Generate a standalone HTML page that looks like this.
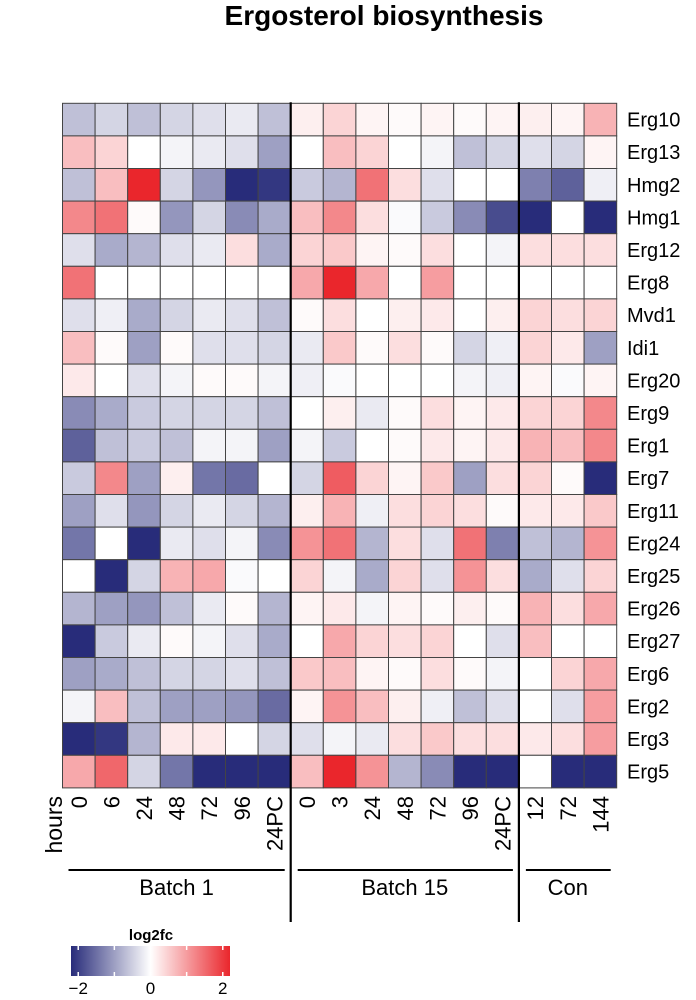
<!DOCTYPE html>
<html><head><meta charset="utf-8"><style>
body{margin:0;background:#fff;width:696px;height:1000px;overflow:hidden;font-family:"Liberation Sans",Arial,sans-serif}
svg{display:block}
</style></head><body>
<svg id="chart" width="696" height="1000"></svg>
<script>
const genes=["Erg10","Erg13","Hmg2","Hmg1","Erg12","Erg8","Mvd1","Idi1","Erg20","Erg9","Erg1","Erg7","Erg11","Erg24","Erg25","Erg26","Erg27","Erg6","Erg2","Erg3","Erg5"];
const hours=["0","6","24","48","72","96","24PC","0","3","24","48","72","96","24PC","12","72","144"];
const groups=["Batch 1","Batch 15","Con"];
const groupSizes=[7,7,3];
const legendTicks=[-2,0,2];
const values=[
[-0.6,-0.4,-0.6,-0.4,-0.3,-0.2,-0.6, 0.15,0.4,0.1,0.05,0.1,0.05,0.1, 0.15,0.1,0.7],
[0.6,0.4,0,-0.1,-0.2,-0.3,-0.9, 0,0.6,0.4,0,-0.1,-0.6,-0.4, -0.3,-0.4,0.1],
[-0.6,0.6,2,-0.4,-1,-2.2,-1.9, -0.5,-0.7,1.3,0.3,-0.3,0,0, -1.2,-1.5,-0.15],
[1.1,1.3,0.05,-1,-0.4,-1.1,-0.8, 0.6,1.1,0.3,-0.05,-0.5,-1.1,-1.7, -2.2,0,-2.2],
[-0.3,-0.8,-0.7,-0.3,-0.2,0.3,-0.8, 0.4,0.5,0.1,0.05,0.3,0,-0.1, 0.3,0.3,0.3],
[1.3,0,0,0,0,0,0, 0.8,2,0.8,0,0.9,0,0, 0,0,0],
[-0.3,-0.15,-0.8,-0.4,-0.2,-0.3,-0.6, 0.05,0.3,0,0.15,0.2,0,0.15, 0.4,0.3,0.4],
[0.6,0.05,-0.9,0.05,-0.3,-0.3,-0.4, -0.2,0.5,0.05,0.3,0.05,-0.4,-0.15, 0.4,0.2,-0.9],
[0.2,0,-0.3,-0.1,0.05,0.05,-0.1, -0.15,-0.05,0,0,0,-0.1,-0.15, 0.1,-0.05,0.1],
[-1.1,-0.8,-0.5,-0.4,-0.4,-0.4,-0.6, 0,0.15,-0.2,0.05,0.3,0.1,0.2, 0.4,0.4,1.1],
[-1.5,-0.6,-0.5,-0.6,-0.1,-0.1,-0.9, -0.1,-0.5,0,0.05,0.2,0.1,0.2, 0.7,0.6,1.1],
[-0.5,1.1,-0.9,0.15,-1.3,-1.4,0, -0.4,1.5,0.4,0.1,0.5,-0.9,0.3, 0.4,0.05,-2.2],
[-0.9,-0.3,-1,-0.4,-0.2,-0.4,-0.7, 0.15,0.7,-0.15,0.3,0.4,0.3,0.05, 0.2,0.2,0.5],
[-1.3,0,-2,-0.2,-0.3,-0.1,-1.1, 1,1.3,-0.7,0.3,-0.3,1.3,-1.2, -0.6,-0.7,1],
[0,-2.2,-0.4,0.7,0.8,-0.05,0, 0.4,-0.1,-0.8,0.4,-0.3,1,0.3, -0.8,-0.3,0.4],
[-0.7,-0.9,-1,-0.6,-0.2,0.05,-0.7, 0.1,0.2,-0.1,0.1,0.05,0.15,0.05, 0.7,0.3,0.8],
[-2,-0.5,-0.2,0.05,-0.1,-0.3,-0.8, 0,0.8,0.4,0.3,0.4,0,-0.3, 0.6,0,0],
[-0.9,-0.8,-0.6,-0.4,-0.4,-0.3,-0.6, 0.5,0.6,0.1,0.05,0.3,0.05,-0.1, 0,0.4,0.8],
[-0.1,0.6,-0.6,-0.9,-0.9,-1,-1.4, 0.1,1,0.6,0.15,-0.15,-0.6,-0.3, 0,-0.3,0.9],
[-2.2,-1.9,-0.7,0.2,0.2,0,-0.4, -0.3,-0.1,-0.2,0.3,0.5,0.3,0.3, 0.2,0.3,0.9],
[0.8,1.4,-0.4,-1.3,-2.2,-2.2,-2.2, 0.6,2,1,-0.7,-1.1,-2.2,-2.2, 0,-2.2,-2.2]
];
const NS="http://www.w3.org/2000/svg";
const svg=document.getElementById('chart');
function mk(t,a,txt){const e=document.createElementNS(NS,t);for(const k in a)e.setAttribute(k,a[k]);if(txt!==undefined)e.textContent=txt;svg.appendChild(e);return e;}
const X0=62.5,Y0=103.3,CW=32.6,CH=32.6;
const xPos=i=>X0+i*CW, yPos=j=>Y0+j*CH;
function color(v){v=Math.max(-2,Math.min(2,v));const t=Math.abs(v)/2;
 const e=v<0?[40,44,122]:[234,38,44];
 const c=e.map(x=>Math.round(255+(x-255)*t));return `rgb(${c})`;}
let t=mk('text',{x:384,y:25,'text-anchor':'middle','font-size':28,'font-weight':'bold'},'Ergosterol biosynthesis');


values.forEach((row,j)=>row.forEach((v,i)=>{
 const r=mk('rect',{x:xPos(i),y:yPos(j),width:CW,height:CH,fill:color(v),stroke:'#444','stroke-width':1});
 
 
}));
genes.forEach((g,j)=>{const e=mk('text',{x:627,y:yPos(j)+CH/2+7,'font-size':20},g);
 
 });
hours.forEach((h,i)=>{const cx=xPos(i)+CW/2+8;const e=mk('text',{x:cx,y:796,'font-size':22,'text-anchor':'end',transform:`rotate(-90 ${cx} 796)`},h);
 
 });
let hl=mk('text',{x:62,y:796,'font-size':23,'text-anchor':'end',transform:'rotate(-90 62 796)'},'hours');


let start=0;
groups.forEach((g,k)=>{const x1=xPos(start)+(k===0?6:7),x2=xPos(start+groupSizes[k])-6;
 const l=mk('line',{x1:x1,x2:x2,y1:870,y2:870,stroke:'#000','stroke-width':2});
 
 
 const e=mk('text',{x:(xPos(start)+xPos(start+groupSizes[k]))/2,y:895,'font-size':22,'text-anchor':'middle'},g);
 
 
 start+=groupSizes[k];
 if(k<groups.length-1){const s=mk('line',{x1:xPos(start),x2:xPos(start),y1:Y0-1,y2:922,stroke:'#000','stroke-width':2.2});
  
  }
});
const defs=mk('defs',{});
defs.innerHTML='<linearGradient id="lg" x1="0" x2="1"><stop offset="0" stop-color="rgb(40,44,122)"/><stop offset="0.5" stop-color="#fff"/><stop offset="1" stop-color="rgb(234,38,44)"/></linearGradient>';
const LX0=71,LX1=230,lx=v=>LX0+(v+2.2)/4.4*(LX1-LX0);
let lt=mk('text',{x:151,y:940,'font-size':15,'font-weight':'bold','text-anchor':'middle'},'log2fc');


let lb=mk('rect',{x:LX0,y:946,width:LX1-LX0,height:30,fill:'url(#lg)'});


[-2,-1,0,1,2].forEach(v=>{mk('line',{x1:lx(v),x2:lx(v),y1:946,y2:950,stroke:'#fff','stroke-width':1.5});mk('line',{x1:lx(v),x2:lx(v),y1:972,y2:976,stroke:'#fff','stroke-width':1.5});});
legendTicks.forEach(v=>{const e=mk('text',{x:lx(v),y:994,'font-size':17,'text-anchor':'middle'},v<0?'\u2212'+(-v):String(v));
 
 });
</script>
</body></html>
